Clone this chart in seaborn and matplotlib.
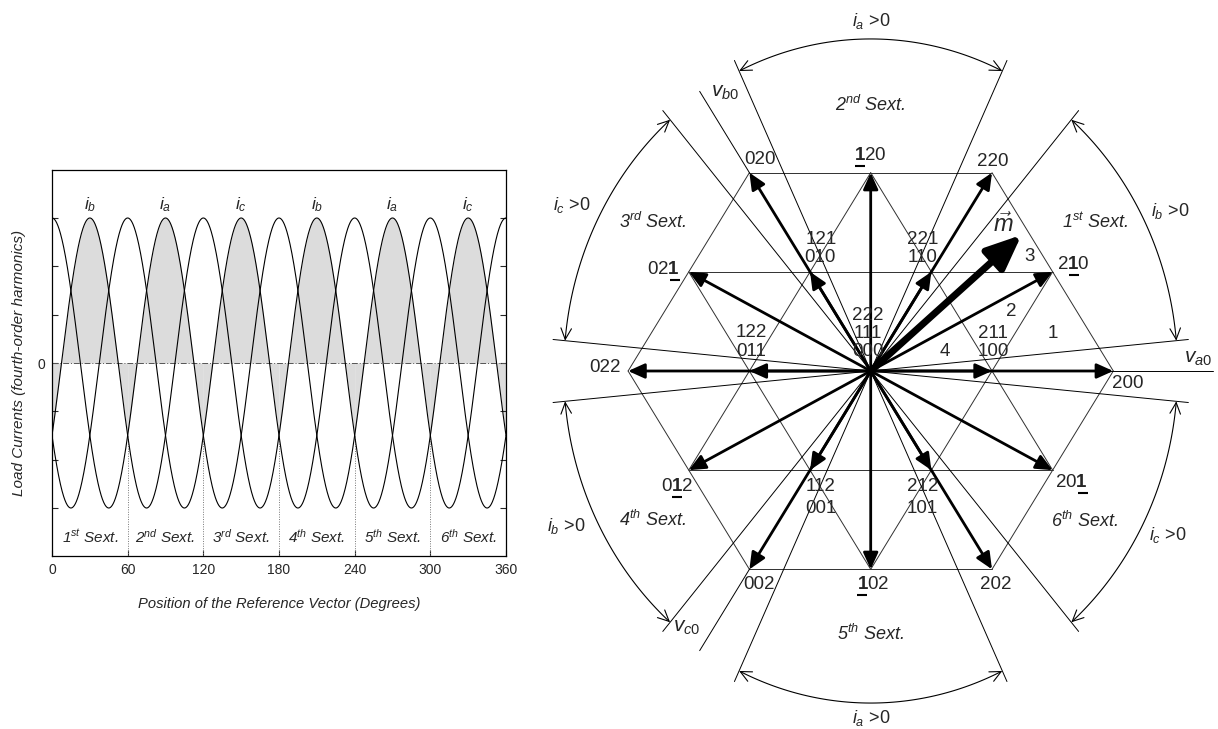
import numpy as np
import pandas as pd
import matplotlib
matplotlib.use("Agg")
import matplotlib.pyplot as plt
import seaborn as sns
from matplotlib.patches import FancyArrowPatch
from matplotlib.path import Path

# ---------------- data: left panel (load currents) ----------------
harmonic_order = 4
phases = ["a", "b", "c"]
phase_shift_deg = [0.0, 120.0, -120.0]
sextant_bounds_deg = [0, 60, 120, 180, 240, 300, 360]
sextant_current = ["b", "a", "c", "b", "a", "c"]
sextant_names = ["1$^{st}$ Sext.", "2$^{nd}$ Sext.", "3$^{rd}$ Sext.",
                 "4$^{th}$ Sext.", "5$^{th}$ Sext.", "6$^{th}$ Sext."]
x_ticks = [0, 60, 120, 180, 240, 300, 360]
y_ticks = [-1, -2 / 3, -1 / 3, 0, 1 / 3, 2 / 3, 1]
y_ticklabels = ["", "", "", "0", "", "", ""]
sextant_crossing_value = -0.5

# ---------------- data: right panel (space-vector diagram) ----------------
small_states = ["100", "110", "010", "011", "001", "101"]
small_redundant = ["211", "221", "121", "122", "112", "212"]
medium_states = ["210", "120", "021", "012", "102", "201"]
medium_underlined = [1, 0, 2, 1, 0, 2]
large_states = ["200", "220", "020", "022", "002", "202"]
zero_states = ["222", "111", "000"]
grid_segments = [("021", "210"), ("012", "201"), ("020", "220"), ("002", "202"),
                 ("102", "210"), ("012", "120"), ("022", "020"), ("202", "200"),
                 ("201", "120"), ("102", "021"), ("200", "220"), ("002", "022")]
boundary_angles_deg = [6, 53, 67.5, 112.5, 127, 174]
current_region_phase = ["b", "a", "c", "b", "a", "c"]
current_region_start_deg = [6, 67.5, 127, 186, 247.5, 307]
current_region_end_deg = [53, 112.5, 174, 233, 292.5, 354]
axis_names = ["a0", "b0", "c0"]
axis_angles_deg = [0, 120, 240]
axis_length = 2.82
m_magnitude = 1.72
m_angle_deg = 43.7
region_numbers = ["1", "2", "3", "4"]

# ---------------- layout ----------------
W, H = 1218, 729
CX, CY = 870.7, 371.0          # diagram centre (pixels from top-left)
SX, SY = 121.3, 114.5          # pixels per unit vector length
ELL_A, ELL_B = 2.53, 2.90      # ellipse carrying the current-sign arcs
LINE_EXTRA = 0.10

sextant_label_pos = [(1.85, 1.30), (0.0, 2.32), (-1.80, 1.30),
                     (-1.80, -1.30), (0.0, -2.30), (1.76, -1.31)]
current_label_pos = [(2.47, 1.40), (0.0, 3.06), (-2.46, 1.45),
                     (-2.51, -1.35), (0.0, -3.03), (2.45, -1.43)]
axis_label_pos = [(2.70, 0.11), (-1.20, 2.43), (-1.52, -2.24)]
region_number_pos = [(1.50, 0.33), (1.16, 0.52), (1.31, 1.00), (0.61, 0.17)]
m_label_pos = (1.09, 1.28)
small_upper_off = [(1, 38), (-9, 32), (11, 32), (2, 38), (11, -16), (-9, -16)]
small_lower_off = [(1, 19), (-9, 14), (10, 14), (2, 19), (11, -38), (-9, -38)]
medium_off = [(21, 7), (0, 17), (-25, 2), (-12, -16), (2, -15), (19, -12)]
large_off = [(14, -12), (1, 11), (11, 13), (-23, 3), (10, -15), (4, -15)]
zero_off = [(-3, 56), (-3, 38), (-3, 19)]

sns.set_style("white")
plt.rcParams["font.family"] = ["Liberation Sans", "DejaVu Sans"]
plt.rcParams["mathtext.fontset"] = "custom"
plt.rcParams["mathtext.rm"] = "Liberation Sans"
plt.rcParams["mathtext.it"] = "Liberation Sans:italic"
plt.rcParams["mathtext.bf"] = "Liberation Sans:bold"

fig = plt.figure(figsize=(W / 100, H / 100), dpi=100)
fig.patch.set_facecolor("white")

# =============== left panel ===============
ax1 = fig.add_axes([52 / W, 1 - 556 / H, (506 - 52) / W, (556 - 170) / H])
theta = np.linspace(0, 360, 1441)
frames = []
for p, sh in zip(phases, phase_shift_deg):
    frames.append(pd.DataFrame({
        "theta": theta,
        "current": np.cos(np.deg2rad(harmonic_order * theta - sh)),
        "phase": p}))
df = pd.concat(frames, ignore_index=True)

for k in range(6):
    lo, hi = sextant_bounds_deg[k], sextant_bounds_deg[k + 1]
    sub = df[(df.phase == sextant_current[k]) & (df.theta >= lo) & (df.theta <= hi)]
    ax1.fill_between(sub.theta, 0, sub.current, color="#dcdcdc", lw=0, zorder=0)

sns.lineplot(data=df, x="theta", y="current", hue="phase",
             palette={"a": "black", "b": "black", "c": "black"},
             linewidth=0.8, legend=False, ax=ax1, estimator=None, sort=True, zorder=3)

ax1.axhline(0, color="#555555", lw=0.7, ls=(0, (6, 2, 1, 2)), zorder=2)
for xv in sextant_bounds_deg[1:-1]:
    ax1.plot([xv, xv], [-1.331, sextant_crossing_value], color="#777777",
             lw=0.7, ls=(0, (1, 1.5)), zorder=1)

for k in range(6):
    mid = 0.5 * (sextant_bounds_deg[k] + sextant_bounds_deg[k + 1])
    ax1.text(mid, 1.09, f"$i_{sextant_current[k]}$", ha="center", va="center", fontsize=12.5)
    ax1.text(mid, -1.195, sextant_names[k], ha="center", va="center",
             fontsize=11, style="italic")

ax1.set_xlim(0, 360)
ax1.set_ylim(-1.331, 1.331)
ax1.set_xticks(x_ticks)
ax1.set_xticklabels([str(v) for v in x_ticks])
ax1.set_yticks(y_ticks)
ax1.set_yticklabels(y_ticklabels)
ax1.tick_params(direction="in", length=4, width=0.8, labelsize=10,
                right=True, left=True, bottom=True, top=False, pad=5)
for s in ax1.spines.values():
    s.set_linewidth(0.9)
    s.set_color("black")
ax1.set_xlabel("Position of the Reference Vector (Degrees)", fontsize=10.6, style="italic")
ax1.set_ylabel("Load Currents (fourth-order harmonics)", fontsize=11, style="italic")
ax1.xaxis.set_label_coords(0.5, -0.105)
ax1.yaxis.set_label_coords(-0.058, 0.5)

# =============== right panel ===============
ax2 = fig.add_axes([540 / W, 0, (W - 540) / W, 1])
ax2.set_xlim((540 - CX) / SX, (W - CX) / SX)
ax2.set_ylim(-(H - CY) / SY, CY / SY)
ax2.axis("off")

unit = np.exp(1j * np.deg2rad([0, 120, 240]))


def vec(state):
    z = sum(int(d) * u for d, u in zip(state, unit))
    return z.real, z.imag


def ell_r(t):
    return 1.0 / np.sqrt(np.cos(t) ** 2 / ELL_A ** 2 + np.sin(t) ** 2 / ELL_B ** 2)


# triangular grid
for a, b in grid_segments:
    (x0, y0), (x1, y1) = vec(a), vec(b)
    ax2.plot([x0, x1], [y0, y1], color="#303030", lw=0.7, zorder=1)

# current-sign boundary lines through the centre
for ang in boundary_angles_deg:
    t = np.deg2rad(ang)
    r = ell_r(t) + LINE_EXTRA
    ax2.plot([-r * np.cos(t), r * np.cos(t)], [-r * np.sin(t), r * np.sin(t)],
             color="black", lw=0.7, zorder=1)

# phase voltage axes
for name, ang, pos in zip(axis_names, axis_angles_deg, axis_label_pos):
    t = np.deg2rad(ang)
    ax2.plot([0, axis_length * np.cos(t)], [0, axis_length * np.sin(t)],
             color="black", lw=0.7, zorder=1)
    ax2.text(pos[0], pos[1], f"$v_{{{name}}}$", ha="center", va="center", fontsize=15)

# arcs with double arrows
for ph, a1, a2, pos in zip(current_region_phase, current_region_start_deg,
                           current_region_end_deg, current_label_pos):
    t = np.deg2rad(np.linspace(a1, a2, 80))
    r = ell_r(t)
    verts = np.column_stack([r * np.cos(t), r * np.sin(t)])
    ax2.add_patch(FancyArrowPatch(path=Path(verts),
                                  arrowstyle="<->,head_length=0.8,head_width=0.38",
                                  mutation_scale=10, lw=0.8, color="black", zorder=2))
    ax2.text(pos[0], pos[1], f"$i_{ph}$ >0", ha="center", va="center", fontsize=13)

# sextant labels
for name, pos in zip(sextant_names, sextant_label_pos):
    ax2.text(pos[0], pos[1], name, ha="center", va="center", fontsize=13, style="italic")

# switching vectors
for s in small_states + medium_states + large_states:
    x, y = vec(s)
    ax2.add_patch(FancyArrowPatch((0, 0), (x, y),
                                  arrowstyle="-|>,head_length=1.0,head_width=0.45",
                                  mutation_scale=10, lw=2.0, color="black",
                                  shrinkA=0, shrinkB=0, zorder=4))

# reference vector m
mt = np.deg2rad(m_angle_deg)
ax2.add_patch(FancyArrowPatch((0, 0), (m_magnitude * np.cos(mt), m_magnitude * np.sin(mt)),
                              arrowstyle="-|>,head_length=1.05,head_width=0.45",
                              mutation_scale=20, lw=5.0, color="black",
                              shrinkA=0, shrinkB=0, zorder=5))
ax2.text(m_label_pos[0], m_label_pos[1], r"$\vec{m}$", ha="center", va="center", fontsize=17)

for num, pos in zip(region_numbers, region_number_pos):
    ax2.text(pos[0], pos[1], num, ha="center", va="center", fontsize=13.5)

LBL = dict(textcoords="offset pixels", ha="center", va="center", fontsize=13.5, zorder=6)
for s, red, o1, o2 in zip(small_states, small_redundant, small_upper_off, small_lower_off):
    ax2.annotate(red, vec(s), xytext=o1, **LBL)
    ax2.annotate(s, vec(s), xytext=o2, **LBL)
for s, o in zip(large_states, large_off):
    ax2.annotate(s, vec(s), xytext=o, **LBL)
for s, o in zip(zero_states, zero_off):
    ax2.annotate(s, (0, 0), xytext=o, **LBL)

underlined = []
for s, idx, o in zip(medium_states, medium_underlined, medium_off):
    txt = "".join(f"$\\mathbf{{{d}}}$" if i == idx else d for i, d in enumerate(s))
    t = ax2.annotate(txt, vec(s), xytext=o, **LBL)
    underlined.append((t, idx))

fig.canvas.draw()
rend = fig.canvas.get_renderer()
inv = ax2.transData.inverted()
for t, idx in underlined:
    bb = t.get_window_extent(rend)
    w = bb.width / 3.0
    xa = bb.x0 + idx * w + 0.5
    xb = xa + w - 1.0
    yy = bb.y0 - 2.0
    p0 = inv.transform((xa, yy))
    p1 = inv.transform((xb, yy))
    ax2.plot([p0[0], p1[0]], [p0[1], p1[1]], color="black", lw=1.5,
             solid_capstyle="butt", zorder=6)

fig.savefig("out.png", dpi=100, facecolor="white")
